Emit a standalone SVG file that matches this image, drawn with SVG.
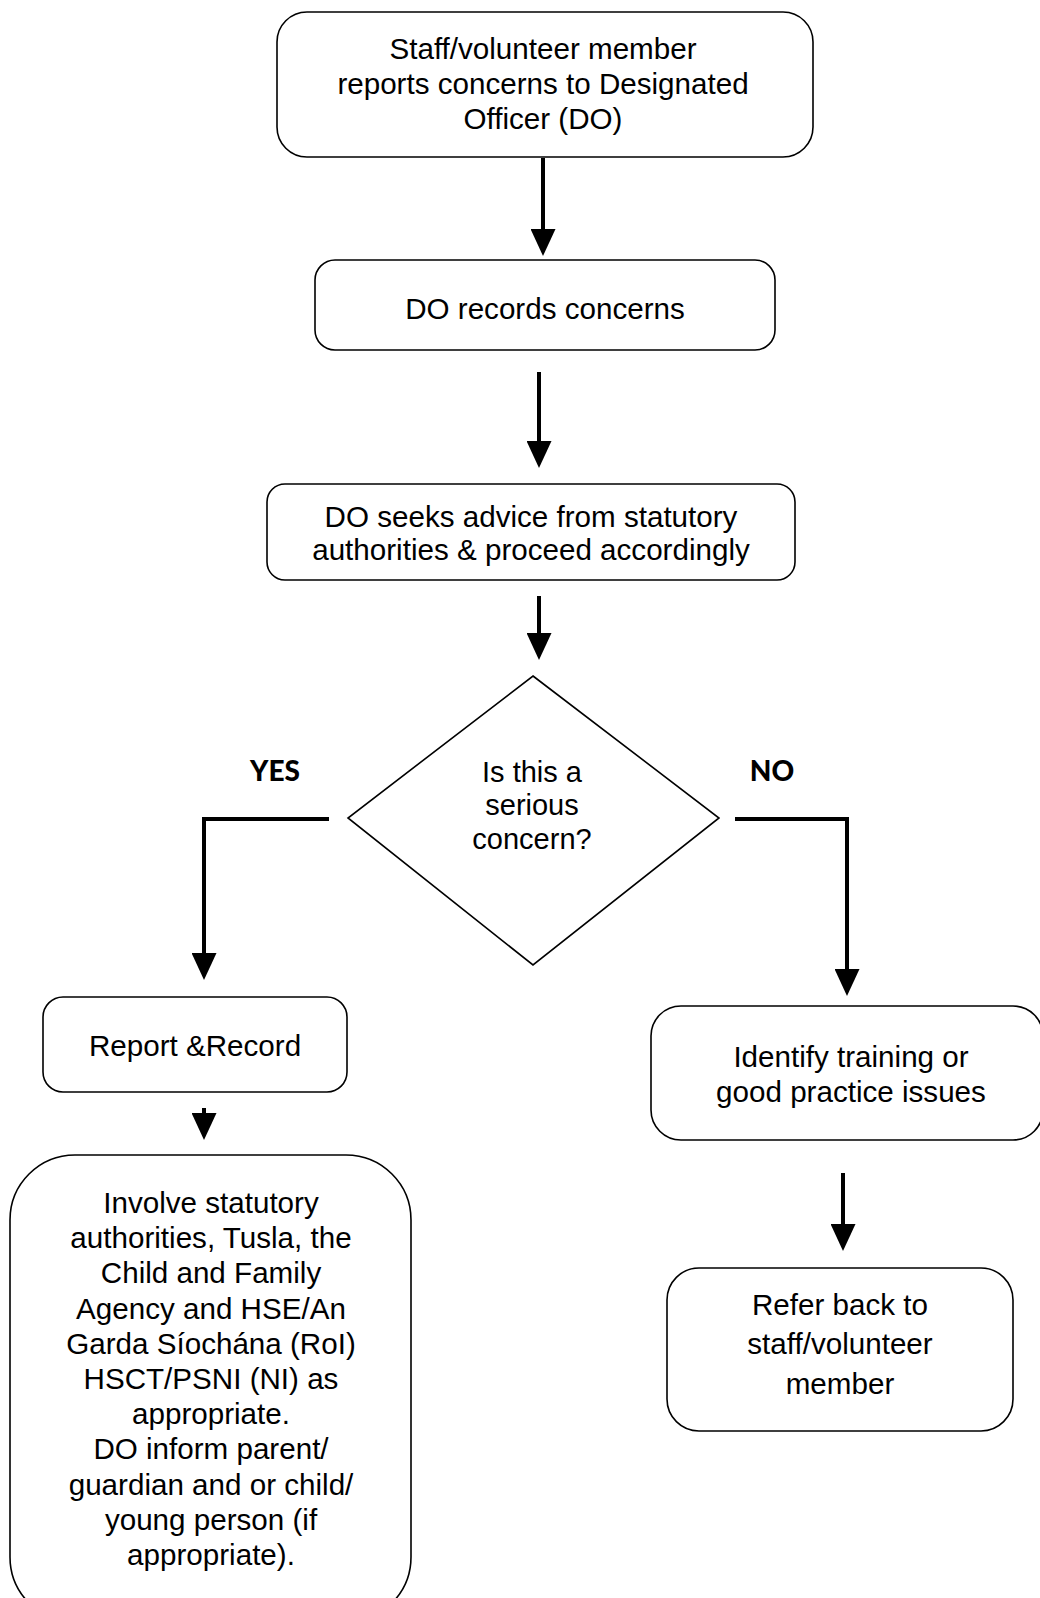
<svg xmlns="http://www.w3.org/2000/svg" width="1040" height="1598" viewBox="0 0 1040 1598">
<style>
.box{fill:#fff;stroke:#000;stroke-width:1.6}
.t{font-family:"Liberation Sans",Arial,sans-serif;font-size:29.6px;fill:#000;text-anchor:middle}
.lbl{font-family:Lato,"Open Sans",sans-serif;font-weight:900;font-size:28px;fill:#000;text-anchor:middle}
.c{fill:none;stroke:#000;stroke-width:4}
</style>
<defs>
<marker id="head" markerUnits="userSpaceOnUse" markerWidth="27" markerHeight="25" refX="0" refY="12.5" orient="auto" viewBox="0 0 27 25">
<path d="M0,0 L27,12.5 L0,25 Z" fill="#000"/>
</marker>
</defs>
<g id="connectors">
<path class="c" d="M543,158 V229" marker-end="url(#head)"/>
<path class="c" d="M539,372 V441" marker-end="url(#head)"/>
<path class="c" d="M539,596 V633" marker-end="url(#head)"/>
<path class="c" d="M329,819 H204 V953" marker-end="url(#head)"/>
<path class="c" d="M735,819 H847 V969" marker-end="url(#head)"/>
<path class="c" d="M204,1108 V1113" marker-end="url(#head)"/>
<path class="c" d="M843,1173 V1224" marker-end="url(#head)"/>
</g>
<g id="n1">
<rect class="box" x="277" y="12" width="536" height="145" rx="30"/>
<text class="t" x="543" y="59">Staff/volunteer member</text>
<text class="t" x="543" y="94">reports concerns to Designated</text>
<text class="t" x="543" y="129">Officer (DO)</text>
</g>
<g id="n2">
<rect class="box" x="315" y="260" width="460" height="90" rx="20"/>
<text class="t" x="545" y="319">DO records concerns</text>
</g>
<g id="n3">
<rect class="box" x="267" y="484" width="528" height="96" rx="18"/>
<text class="t" x="531" y="527">DO seeks advice from statutory</text>
<text class="t" x="531" y="560">authorities &amp; proceed accordingly</text>
</g>
<g id="decision">
<polygon class="box" points="533,676 719,818 533,965 348,818"/>
<text class="t" x="532" y="782" style="font-size:29px">Is this a</text>
<text class="t" x="532" y="815" style="font-size:29px">serious</text>
<text class="t" x="532" y="849" style="font-size:29px">concern?</text>
</g>
<g id="labels">
<text class="lbl" x="275" y="781">YES</text>
<text class="lbl" x="772" y="781">NO</text>
</g>
<g id="n4">
<rect class="box" x="43" y="997" width="304" height="95" rx="20"/>
<text class="t" x="195" y="1056">Report &amp;Record</text>
</g>
<g id="n5">
<rect class="box" x="10" y="1155" width="401" height="467" rx="65"/>
<text class="t" x="211" y="1213">Involve statutory</text>
<text class="t" x="211" y="1248">authorities, Tusla, the</text>
<text class="t" x="211" y="1283">Child and Family</text>
<text class="t" x="211" y="1319">Agency and HSE/An</text>
<text class="t" x="211" y="1354">Garda Síochána (RoI)</text>
<text class="t" x="211" y="1389">HSCT/PSNI (NI) as</text>
<text class="t" x="211" y="1424">appropriate.</text>
<text class="t" x="211" y="1459">DO inform parent/</text>
<text class="t" x="211" y="1495">guardian and or child/</text>
<text class="t" x="211" y="1530">young person (if</text>
<text class="t" x="211" y="1565">appropriate).</text>
</g>
<g id="n6">
<rect class="box" x="651" y="1006" width="392" height="134" rx="30"/>
<text class="t" x="851" y="1067">Identify training or</text>
<text class="t" x="851" y="1102">good practice issues</text>
</g>
<g id="n7">
<rect class="box" x="667" y="1268" width="346" height="163" rx="32"/>
<text class="t" x="840" y="1315">Refer back to</text>
<text class="t" x="840" y="1354">staff/volunteer</text>
<text class="t" x="840" y="1394">member</text>
</g>
</svg>
